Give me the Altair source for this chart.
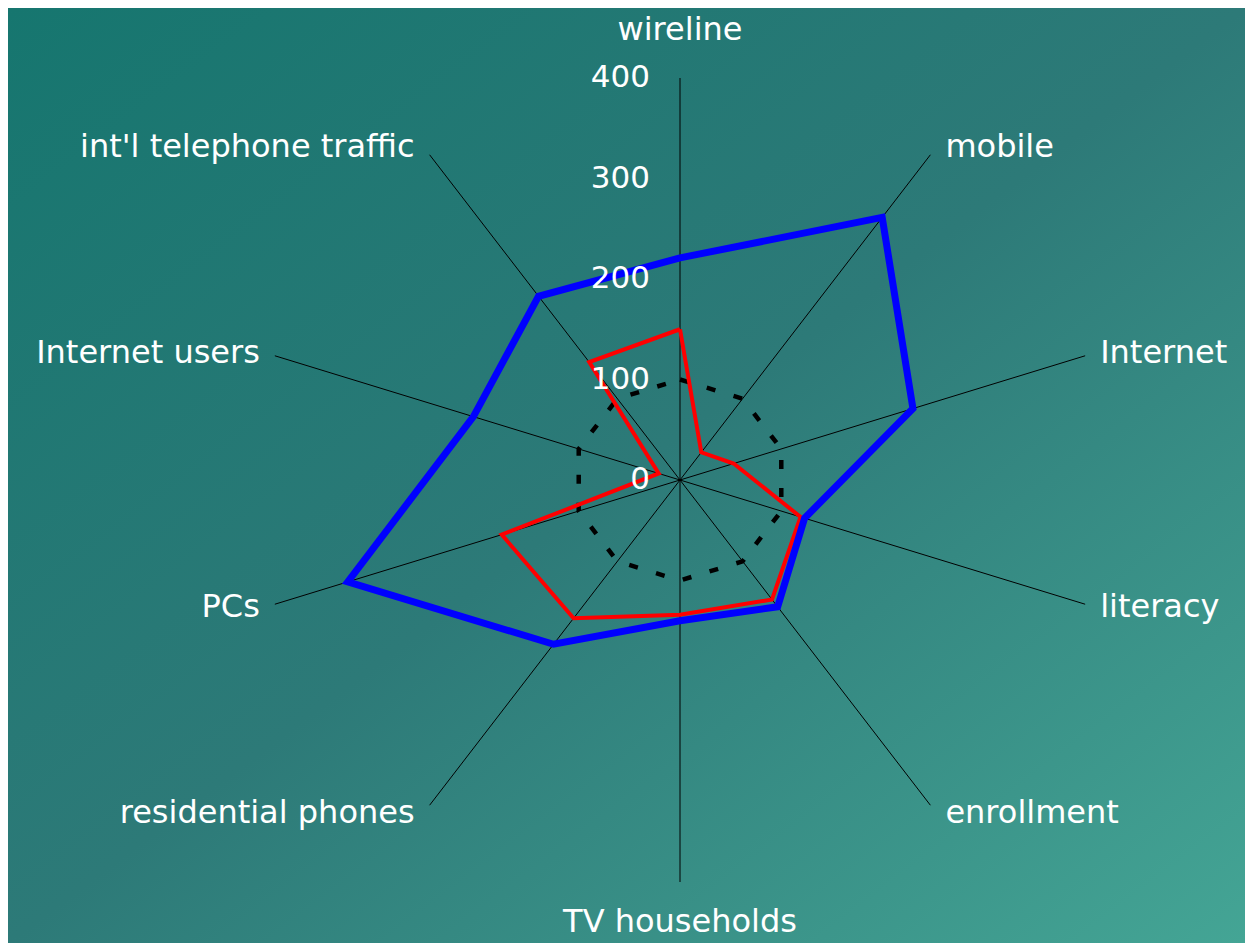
import altair as alt
import pandas as pd

# ---- data ----
categories = ["wireline", "mobile", "Internet", "literacy", "enrollment",
              "TV households", "residential phones", "PCs", "Internet users",
              "int'l telephone traffic"]
blue_values = [221, 323, 230, 123, 156, 140, 202, 328, 204, 226]
red_values = [150, 34, 53, 119, 147, 134, 170, 176, 21, 145]
ref_values = [100, 100, 100, 100, 100, 100, 100, 100, 100, 100]
tick_values = [0, 100, 200, 300, 400]
axis_max = 400

# ---- layout ----
W, H = 1237, 935
cx, cy = 672, 472
sx, sy = 1.065, 1.005
xdom = [-cx / sx, (W - cx) / sx]
ydom = [-(H - cy) / sy, cy / sy]
N = len(categories)
FONT = "DejaVu Sans"
FS = 31
FSL = 32

rows = []
for name, vals in [("blue", blue_values), ("red", red_values), ("ref", ref_values)]:
    for k in range(N + 1):
        i = k % N
        rows.append({"series": name, "order": k, "idx": i,
                     "category": categories[i], "value": vals[i]})
series_df = pd.DataFrame(rows)
cat_df = pd.DataFrame({"idx": list(range(N)), "category": categories})
tick_df = pd.DataFrame({"tick": tick_values, "label": [str(t) for t in tick_values]})

xs = alt.Scale(domain=xdom, nice=False, zero=False)
ys = alt.Scale(domain=ydom, nice=False, zero=False)

ang = f"datum.idx * 2 * PI / {N}"

bg = alt.Chart(pd.DataFrame({"a": [0]})).mark_rect(
    color=alt.Gradient(
        gradient="linear",
        stops=[alt.GradientStop(color="#16766f", offset=0),
               alt.GradientStop(color="#2d7a78", offset=0.5),
               alt.GradientStop(color="#44a595", offset=1)],
        x1=0, y1=0, x2=1, y2=1)
).encode(x=alt.value(0), x2=alt.value(W), y=alt.value(0), y2=alt.value(H))

spokes = alt.Chart(cat_df).transform_calculate(
    a=ang,
    x0="0", y0="0",
    x1=f"{axis_max} * sin(datum.a)",
    y1=f"{axis_max} * cos(datum.a)",
).mark_rule(color="black", strokeWidth=1).encode(
    x=alt.X("x0:Q", scale=xs, axis=None),
    y=alt.Y("y0:Q", scale=ys, axis=None),
    x2="x1:Q", y2="y1:Q",
)

base = alt.Chart(series_df).transform_calculate(
    a=ang,
    px="datum.value * sin(datum.a)",
    py="datum.value * cos(datum.a)",
)
enc = dict(x=alt.X("px:Q", scale=xs, axis=None),
           y=alt.Y("py:Q", scale=ys, axis=None),
           order="order:Q")

ref_line = base.transform_filter("datum.series == 'ref'").mark_line(
    color="black", strokeWidth=4.5, strokeDash=[9, 19]).encode(**enc)
blue_line = base.transform_filter("datum.series == 'blue'").mark_line(
    color="#0000ff", strokeWidth=7).encode(**enc)
red_line = base.transform_filter("datum.series == 'red'").mark_line(
    color="#ff0000", strokeWidth=4).encode(**enc)

ticks = alt.Chart(tick_df).transform_calculate(tx="0").mark_text(
    align="right", baseline="middle", dx=-30, font=FONT, fontSize=FS, color="white"
).encode(x=alt.X("tx:Q", scale=xs, axis=None),
         y=alt.Y("tick:Q", scale=ys, axis=None),
         text="label:N")

lab = alt.Chart(cat_df).transform_calculate(
    a=ang,
    lx=f"{axis_max} * sin(datum.a)",
    ly=f"{axis_max} * cos(datum.a) + 10 * cos(datum.a)",
)
lenc = dict(x=alt.X("lx:Q", scale=xs, axis=None),
            y=alt.Y("ly:Q", scale=ys, axis=None),
            text="category:N")
tstyle = dict(baseline="middle", font=FONT, fontSize=FSL, color="white")
lab_right = lab.transform_filter("datum.idx >= 1 && datum.idx <= 4").mark_text(
    align="left", dx=15, **tstyle).encode(**lenc)
lab_left = lab.transform_filter("datum.idx >= 6").mark_text(
    align="right", dx=-15, **tstyle).encode(**lenc)
lab_top = lab.transform_filter("datum.idx == 0").mark_text(
    align="center", dy=-38, **tstyle).encode(**lenc)
lab_bottom = lab.transform_filter("datum.idx == 5").mark_text(
    align="center", dy=30, **tstyle).encode(**lenc)

chart = alt.layer(
    bg, spokes, ref_line, red_line, blue_line, ticks,
    lab_right, lab_left, lab_top, lab_bottom
).properties(
    width=W, height=H,
    autosize=alt.AutoSizeParams(type="none"),
    padding=0,
    background="#2a7c78",
).configure_view(stroke=None)

chart.save("out.html", embed_options={"renderer": "svg", "actions": False})
